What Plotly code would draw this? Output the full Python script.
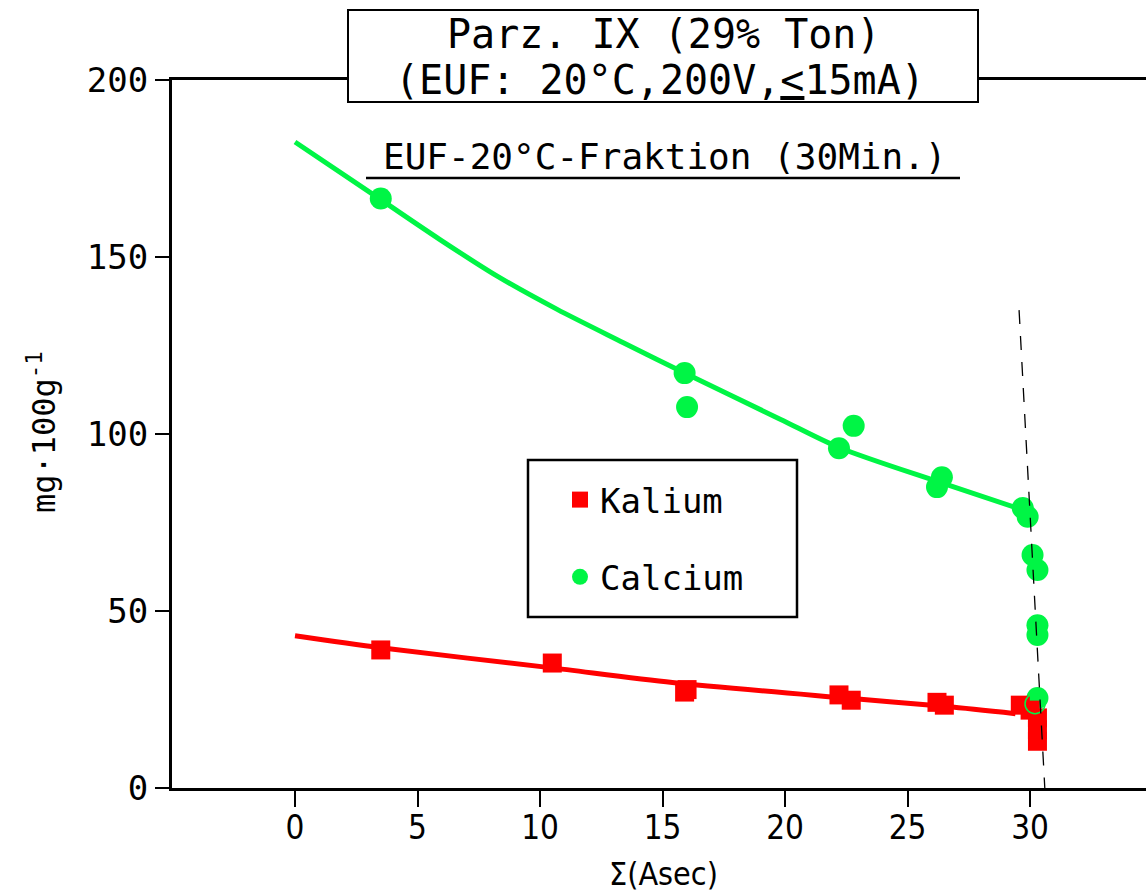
import plotly.graph_objects as go

# ---- data -------------------------------------------------------------
# Calcium (mg/100g) against cumulative charge (Asec)
ca_x = [3.5, 15.9, 16.0, 22.2, 22.8, 26.2, 26.4, 29.7, 29.9, 30.1, 30.3, 30.3, 30.3, 30.3]
ca_y = [166.5, 117.2, 107.6, 96.0, 102.3, 85.0, 87.8, 79.1, 76.6, 65.8, 61.6, 46.0, 43.2, 25.4]
ca_open_x = [30.2]
ca_open_y = [23.8]

# Kalium (mg/100g)
k_x = [3.5, 10.5, 15.9, 16.0, 22.2, 22.7, 26.2, 26.5, 29.6, 30.0, 30.3, 30.3, 30.3]
k_y = [39.0, 35.3, 27.1, 27.8, 26.3, 24.8, 24.2, 23.4, 23.4, 22.0, 19.8, 16.4, 13.2]

# fitted curves
ca_fit_x = [0, 3.5, 5.9, 8.2, 10.7, 13.4, 15.9, 19.8, 22.2, 26.3, 29.6]
ca_fit_y = [182.5, 166.2, 155.0, 144.8, 135.2, 125.8, 117.2, 104.2, 96.2, 86.4, 78.8]
k_fit_x = [0, 3.5, 10.4, 15.4, 22.5, 26.6, 29.4]
k_fit_y = [43.0, 39.6, 34.0, 29.8, 25.4, 23.0, 21.0]

# steep end-of-fraction trend
end_x = [29.55, 30.6]
end_y = [135, 0]

x_ticks = [0, 5, 10, 15, 20, 25, 30]
y_ticks = [0, 50, 100, 150, 200]

GREEN = "#00F545"
RED = "#FF0000"
MONO = "DejaVu Sans Mono, Liberation Mono, monospace"
COND = "DejaVu Sans Condensed, Liberation Sans Narrow, DejaVu Sans, sans-serif"

W, H = 1146, 896
L, T, B = 172, 80, 108
PW, PH = W - L, H - T - B


def px(x):
    return (x - L) / PW


def py(y):
    return (H - B - y) / PH


def label(text, x, y, size, family=MONO, **kw):
    d = dict(text=text, x=px(x), y=py(y), xref="paper", yref="paper", showarrow=False,
             xanchor="center", yanchor="middle", font=dict(family=family, size=size, color="black"))
    d.update(kw)
    return d


fig = go.Figure()

fig.add_trace(go.Scatter(x=ca_fit_x, y=ca_fit_y, mode="lines",
                         line=dict(color=GREEN, width=5, shape="spline", smoothing=0.8),
                         showlegend=False, hoverinfo="skip"))
fig.add_trace(go.Scatter(x=k_fit_x, y=k_fit_y, mode="lines",
                         line=dict(color=RED, width=5, shape="spline", smoothing=0.8),
                         showlegend=False, hoverinfo="skip"))
fig.add_trace(go.Scatter(x=ca_x, y=ca_y, mode="markers", name="Calcium", legendgroup="ca", legendrank=2,
                         marker=dict(symbol="circle", size=22, color=GREEN)))
fig.add_trace(go.Scatter(x=k_x, y=k_y, mode="markers", name="Kalium", legendgroup="k", legendrank=1,
                         marker=dict(symbol="square", size=19, color=RED)))
fig.add_trace(go.Scatter(x=ca_open_x, y=ca_open_y, mode="markers", showlegend=False,
                         marker=dict(symbol="circle-open", size=20, color=GREEN, line=dict(width=1.5))))
fig.add_trace(go.Scatter(x=end_x, y=end_y, mode="lines",
                         line=dict(color="black", width=1.3, dash="14px,12px"),
                         showlegend=False, hoverinfo="skip"))

shapes = [
    # title box
    dict(type="rect", xref="paper", yref="paper", x0=px(348), x1=px(978), y0=py(102), y1=py(10),
         line=dict(color="black", width=2), fillcolor="white", layer="above"),
    # underline of the fraction label
    dict(type="line", xref="paper", yref="paper", x0=px(366), x1=px(960), y0=py(178), y1=py(178),
         line=dict(color="black", width=2.5)),
    # legend frame
    dict(type="rect", xref="paper", yref="paper", x0=px(528), x1=px(797), y0=py(617), y1=py(460),
         line=dict(color="black", width=2.5), fillcolor="rgba(0,0,0,0)", layer="above"),
]

annotations = [
    label("Parz. IX (29% Ton)", 663, 34, 40),
    label("(EUF: 20°C,200V,<u>&lt;</u>15mA)", 660, 80, 40),
    label("EUF-20°C-Fraktion (30Min.)", 665, 157, 36),
    label("mg·100g<sup>-1</sup>", 42, 432, 32, textangle=-90),
    label("Σ(Asec)", 663, 895, 32, family=COND, yanchor="bottom"),
]

fig.update_layout(
    width=W, height=H,
    margin=dict(l=L, r=0, t=T, b=B, pad=0),
    paper_bgcolor="white", plot_bgcolor="white",
    showlegend=True,
    legend=dict(x=px(560), y=py(471), xanchor="left", yanchor="top",
                font=dict(family=MONO, size=34, color="black"),
                bgcolor="rgba(0,0,0,0)", borderwidth=0,
                traceorder="grouped", tracegroupgap=30, itemsizing="trace"),
    shapes=shapes, annotations=annotations,
    xaxis=dict(range=[-5.02, 34.73], tickvals=x_ticks, ticks="outside", ticklen=16, tickwidth=1.5,
               tickcolor="black", showline=True, linecolor="black", linewidth=3, mirror=True,
               showgrid=False, zeroline=False, ticklabelstandoff=-8,
               tickfont=dict(family=COND, size=33, color="black")),
    yaxis=dict(range=[0, 200], tickvals=y_ticks, ticks="outside", ticklen=14, tickwidth=1.5,
               tickcolor="black", showline=True, linecolor="black", linewidth=3, mirror=False,
               showgrid=False, zeroline=False,
               tickfont=dict(family=MONO, size=34, color="black")),
)

fig.write_html("out.html")
